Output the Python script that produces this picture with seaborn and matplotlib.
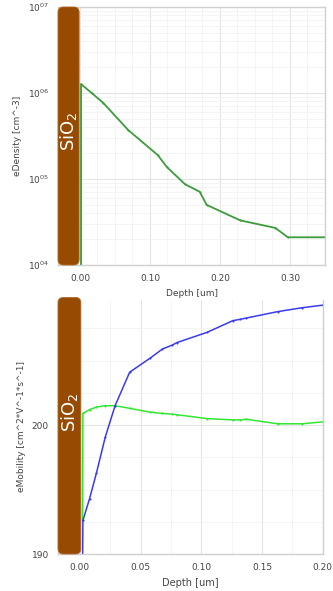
import numpy as np
import pandas as pd
import matplotlib
matplotlib.use("Agg")
import matplotlib.pyplot as plt
import seaborn as sns
from matplotlib.patches import FancyBboxPatch
from matplotlib.ticker import FixedLocator, MultipleLocator, FuncFormatter, LogLocator, NullFormatter

# ---------------- data ----------------
dens_depth = [0.0015, 0.0015, 0.0167, 0.033, 0.069, 0.111, 0.124, 0.150, 0.171, 0.181, 0.229, 0.279, 0.297, 0.350]
dens_value = [1.0e4, 1.27e6, 1.0e6, 7.7e5, 3.7e5, 1.9e5, 1.38e5, 8.7e4, 7.1e4, 5.0e4, 3.3e4, 2.7e4, 2.1e4, 2.1e4]

mob_depth = [0.0022, 0.0025, 0.008, 0.0137, 0.021, 0.029, 0.041, 0.058, 0.068, 0.076, 0.080,
             0.105, 0.126, 0.132, 0.137, 0.163, 0.183, 0.200]
mob_blue = [189.0, 192.6, 194.3, 196.3, 199.1, 201.5, 204.1, 205.2, 205.9, 206.2, 206.4,
            207.2, 208.1, 208.2, 208.3, 208.8, 209.1, 209.3]
mob_green = [192.6, 200.9, 201.2, 201.4, 201.5, 201.5, 201.3, 201.0, 200.9, 200.85, 200.8,
             200.5, 200.4, 200.4, 200.45, 200.1, 200.1, 200.25]

dens_yticks = [1e4, 1e5, 1e6, 1e7]
mob_yticks = [190, 200]
dens_xticks = [0.0, 0.1, 0.2, 0.3]
mob_xticks = [0.0, 0.05, 0.10, 0.15, 0.20]

# ---------------- style ----------------
sns.set_theme(style="white")
plt.rcParams['font.family'] = ['DejaVu Sans']

W, H = 333, 591
fig = plt.figure(figsize=(W / 100, H / 100), dpi=100)

def frac(x0, y0, x1, y1):
    return [x0 / W, 1 - y1 / H, (x1 - x0) / W, (y1 - y0) / H]

ax1 = fig.add_axes(frac(58, 7, 325, 265))
ax2 = fig.add_axes(frac(58, 300, 323, 554))

gridc_major = "#e4e4e4"
gridc_minor = "#f2f2f2"
tick_c = "#444444"

def style_axes(ax):
    for s in ["top", "right", "bottom", "left"]:
        ax.spines[s].set_color("#d0d0d0")
        ax.spines[s].set_linewidth(1.0)
    ax.tick_params(axis="both", which="major", labelsize=6.5, colors="#aaaaaa",
                   labelcolor=tick_c, length=3, width=0.6, direction="out")
    ax.tick_params(axis="both", which="minor", colors="#c4c4c4", length=1.5, width=0.4)
    ax.grid(True, which="major", color=gridc_major, linewidth=0.8)
    ax.grid(True, which="minor", color=gridc_minor, linewidth=0.6)
    ax.set_axisbelow(True)

# ---------- top panel ----------
df1 = pd.DataFrame({"depth": dens_depth, "dens": dens_value})
sns.lineplot(data=df1, x="depth", y="dens", ax=ax1, color="#3c9c3c", linewidth=1.3,
             sort=False, estimator=None, marker="o", markersize=1.5, markeredgewidth=0)
ax1.set_yscale("log")
ax1.set_xlim(-0.0314, 0.35)
ax1.set_ylim(1e4, 1e7)
ax1.yaxis.set_major_locator(FixedLocator(dens_yticks))
ax1.yaxis.set_minor_locator(LogLocator(base=10, subs=np.arange(2, 10)))
ax1.yaxis.set_minor_formatter(NullFormatter())
ax1.yaxis.set_major_formatter(FuncFormatter(lambda v, p: "10$^{%02d}$" % int(round(np.log10(v)))))
ax1.xaxis.set_major_locator(FixedLocator(dens_xticks))
ax1.xaxis.set_minor_locator(MultipleLocator(0.025))
ax1.xaxis.set_major_formatter(FuncFormatter(lambda v, p: "%.2f" % v))
style_axes(ax1)
ax1.set_xlabel("Depth [um]", fontsize=6.5, color="#444444", labelpad=4)
ax1.set_ylabel("eDensity [cm^-3]", fontsize=6.5, color="#444444", labelpad=4)

# ---------- bottom panel ----------
df2 = pd.DataFrame({
    "depth": mob_depth + mob_depth,
    "mob": mob_green + mob_blue,
    "series": ["green"] * len(mob_depth) + ["blue"] * len(mob_depth),
})
sns.lineplot(data=df2, x="depth", y="mob", hue="series", hue_order=["green", "blue"], ax=ax2,
             palette={"blue": "#3a3af0", "green": "#33e633"}, linewidth=1.1,
             sort=False, estimator=None, marker="o", markersize=1.5, markeredgewidth=0,
             legend=False)
ax2.set_xlim(-0.018, 0.2002)
ax2.set_ylim(190, 209.7)
ax2.yaxis.set_major_locator(FixedLocator(mob_yticks))
ax2.yaxis.set_minor_locator(MultipleLocator(2.5))
ax2.xaxis.set_major_locator(FixedLocator(mob_xticks))
ax2.xaxis.set_minor_locator(MultipleLocator(0.025))
ax2.xaxis.set_major_formatter(FuncFormatter(lambda v, p: "%.2f" % v))
ax2.yaxis.set_major_formatter(FuncFormatter(lambda v, p: "%d" % v))
style_axes(ax2)
ax2.spines["top"].set_visible(False)
ax2.set_xlabel("Depth [um]", fontsize=7, color="#444444", labelpad=4)
ax2.set_ylabel("eMobility [cm^2*V^-1*s^-1]", fontsize=6.5, color="#444444", labelpad=4)

# ---------- SiO2 bars ----------
brown = "#964B00"

def oxide(ax, x0, x1, y0, y1, ytext):
    xmin, xmax = ax.get_xlim()
    fx0 = (x0 - xmin) / (xmax - xmin)
    fx1 = (x1 - xmin) / (xmax - xmin)
    bb = ax.get_position()
    aspect = (bb.width * W) / (bb.height * H)
    p = FancyBboxPatch((fx0, y0), fx1 - fx0, y1 - y0,
                       boxstyle="round,pad=0,rounding_size=0.02",
                       mutation_aspect=aspect,
                       transform=ax.transAxes, facecolor=brown, edgecolor="#b06a2a",
                       linewidth=0.6, zorder=5, clip_on=False)
    ax.add_patch(p)
    ax.text((fx0 + fx1) / 2, ytext, "SiO$_2$", rotation=90, color="white",
            fontsize=13, ha="center", va="center", transform=ax.transAxes, zorder=6)

oxide(ax1, -0.0314, -0.0012, 0.0, 1.0, 0.52)
oxide(ax2, -0.018, 0.0008, 0.0, 1.01, 0.56)

fig.savefig("out.png", dpi=100)
